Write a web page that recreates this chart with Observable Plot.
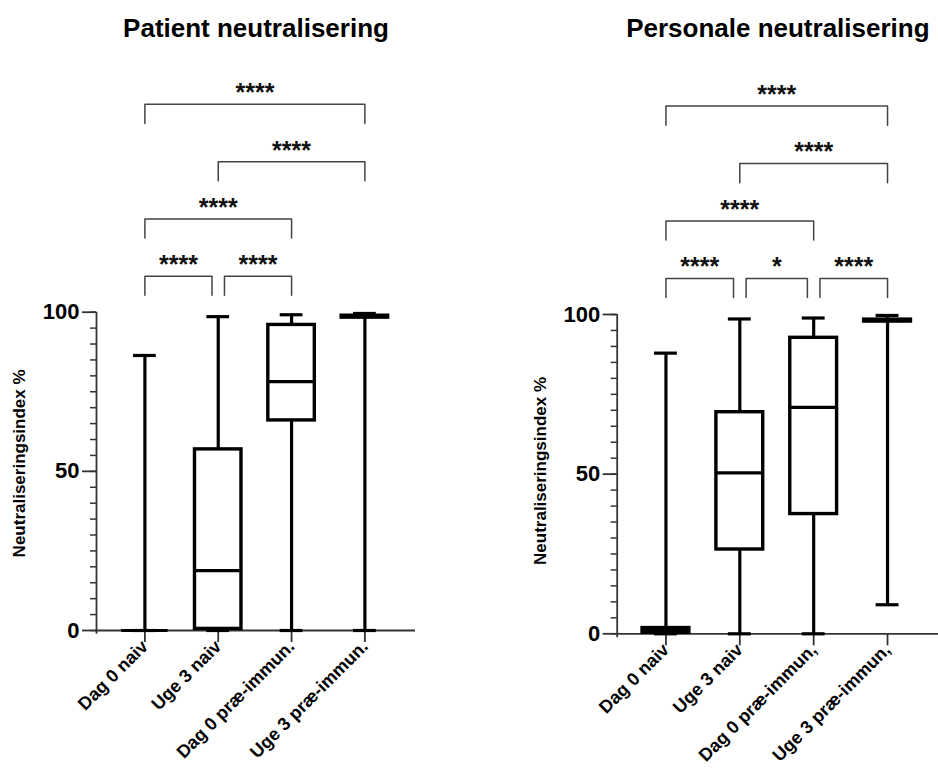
<!DOCTYPE html>
<html>
<head>
<meta charset="utf-8">
<script src="https://cdn.jsdelivr.net/npm/d3@7"></script>
<script src="https://cdn.jsdelivr.net/npm/@observablehq/plot@0.6"></script>
<style>
  body { margin: 0; background: #fff; }
  #wrap { display: flex; width: 938px; height: 769px; overflow: hidden; }
  #wrap svg { font-family: "Liberation Sans", Arial, sans-serif; overflow: visible; }
</style>
</head>
<body>
<div id="wrap"></div>
<script>
// ---- Data ----
const titles = ["Patient neutralisering", "Personale neutralisering"];
const yLabel = "Neutraliseringsindex %";
const yTicks = [0, 50, 100];
const yMinorTicks = [0, 5, 10, 15, 20, 25, 30, 35, 40, 45, 50, 55, 60, 65, 70, 75, 80, 85, 90, 95, 100];

const patientCategories = ["Dag 0 naiv", "Uge 3 naiv", "Dag 0 præ-immun.", "Uge 3 præ-immun."];
const patientMin    = [0,    0,    0,    0];
const patientQ1     = [0,    0.5,  66.0, 98.3];
const patientMedian = [0,    18.8, 78.2, 98.6];
const patientQ3     = [0,    56.9, 96.0, 98.9];
const patientMax    = [86.4, 98.6, 99.2, 99.6];
// [from, to, label, level]
const patientComparisons = [
  [0, 1, "****", 0],
  [1, 2, "****", 0],
  [0, 2, "****", 1],
  [1, 3, "****", 2],
  [0, 3, "****", 3]
];

const personaleCategories = ["Dag 0 naiv", "Uge 3 naiv", "Dag 0 præ-immun,", "Uge 3 præ-immun,"];
const personaleMin    = [0,    0,    0,    9.1];
const personaleQ1     = [0.3,  26.4, 37.5, 97.8];
const personaleMedian = [1.0,  50.4, 70.9, 98.1];
const personaleQ3     = [1.8,  69.4, 92.7, 98.4];
const personaleMax    = [87.9, 98.6, 98.9, 99.7];
const personaleComparisons = [
  [0, 1, "****", 0],
  [1, 2, "*", 0],
  [2, 3, "****", 0],
  [0, 2, "****", 1],
  [1, 3, "****", 2],
  [0, 3, "****", 3]
];

// ---- Layout ----
const xDomain = [-0.66, 3.69];
const FONT = '"Liberation Sans", Arial, sans-serif';

function panel(o) {
  const rows = o.cats.map((c, i) => ({i, c, min: o.mins[i], q1: o.q1s[i], med: o.meds[i], q3: o.q3s[i], max: o.maxs[i]}));
  const half = 0.317, capHalf = 0.155, inset = 0.085;
  const pts = [], stars = [];
  o.comps.forEach(([a, b, label, level], k) => {
    const y = 111.3 + 18 * level, tip = y - 6;
    const shareA = o.comps.some(([a2, b2, , l2]) => l2 === level && b2 === a);
    const shareB = o.comps.some(([a2, b2, , l2]) => l2 === level && a2 === b);
    const xa = a + (shareA ? inset : 0), xb = b - (shareB ? inset : 0);
    pts.push({k, x: xa, y: tip}, {k, x: xa, y}, {k, x: xb, y}, {k, x: xb, y: tip});
    stars.push({x: (xa + xb) / 2, y, label});
  });
  const axisStroke = "#333";
  const svg = Plot.plot({
    width: o.width, height: 769,
    marginLeft: o.marginLeft, marginRight: o.marginRight, marginTop: o.marginTop, marginBottom: o.marginBottom,
    x: {domain: xDomain, axis: null},
    y: {domain: [0, 100], axis: null},
    style: {fontFamily: FONT, background: "white", color: "black"},
    marks: [
      Plot.ruleY([0], {stroke: axisStroke, strokeWidth: 1.8}),
      Plot.ruleX([xDomain[0]], {y1: -1.2, y2: 100, stroke: axisStroke, strokeWidth: 1.8}),
      Plot.axisY({ticks: yMinorTicks, tickSize: 6, tickFormat: () => "", label: null, stroke: axisStroke, strokeWidth: 1.5}),
      Plot.axisY({ticks: yTicks, tickSize: 14, tickPadding: 3, fontSize: 22, fontWeight: "bold", label: null, stroke: axisStroke, strokeWidth: 1.8, fill: "black"}),
      Plot.axisX({ticks: o.cats.map((_, i) => i), tickFormat: i => o.cats[i], tickRotate: -45, tickSize: 12, tickPadding: 1, fontSize: 18, fontWeight: "bold", label: null, stroke: axisStroke, strokeWidth: 1.8, fill: "black"}),
      Plot.ruleX(rows, {x: "i", y1: "min", y2: "max", stroke: "black", strokeWidth: 3.2}),
      Plot.rect(rows, {x1: d => d.i - half, x2: d => d.i + half, y1: "q1", y2: "q3", fill: "white", stroke: "black", strokeWidth: 3.4}),
      Plot.ruleY(rows, {y: "med", x1: d => d.i - half, x2: d => d.i + half, stroke: "black", strokeWidth: 3.2}),
      Plot.ruleY(rows, {y: "max", x1: d => d.i - capHalf, x2: d => d.i + capHalf, stroke: "black", strokeWidth: 3.2}),
      Plot.ruleY(rows, {y: "min", x1: d => d.i - capHalf, x2: d => d.i + capHalf, stroke: "black", strokeWidth: 3.2}),
      Plot.line(pts, {x: "x", y: "y", z: "k", stroke: "#444", strokeWidth: 1.5}),
      Plot.text(stars, {x: "x", y: "y", text: "label", lineAnchor: "bottom", dy: -3, fontSize: 25, fontWeight: "bold", fill: "#111", ariaLabel: "stars"}),
      Plot.text([o.title], {frameAnchor: "top", text: d => d, lineAnchor: "bottom", dy: o.titleDy, fontSize: 26, fontWeight: "bold", fill: "black"}),
      Plot.text([yLabel], {x: () => xDomain[0], y: () => o.labelY, text: d => d, rotate: -90, dx: -77, fontSize: 17, fontWeight: "bold", fill: "black"})
    ]
  });
  d3.select(svg).selectAll('g[aria-label="stars"] text').style("letter-spacing", "3px");
  return svg;
}

const wrap = document.getElementById("wrap");
wrap.appendChild(panel({
  title: titles[0], cats: patientCategories,
  mins: patientMin, q1s: patientQ1, meds: patientMedian, q3s: patientQ3, maxs: patientMax,
  comps: patientComparisons,
  width: 469, marginLeft: 96, marginRight: 54, marginTop: 311.7, marginBottom: 139,
  titleDy: -275.7, labelY: 52.5
}));
wrap.appendChild(panel({
  title: titles[1], cats: personaleCategories,
  mins: personaleMin, q1s: personaleQ1, meds: personaleMedian, q3s: personaleQ3, maxs: personaleMax,
  comps: personaleComparisons,
  width: 469, marginLeft: 147.7, marginRight: 0, marginTop: 314, marginBottom: 135.7,
  titleDy: -278, labelY: 51
}));
</script>
</body>
</html>
